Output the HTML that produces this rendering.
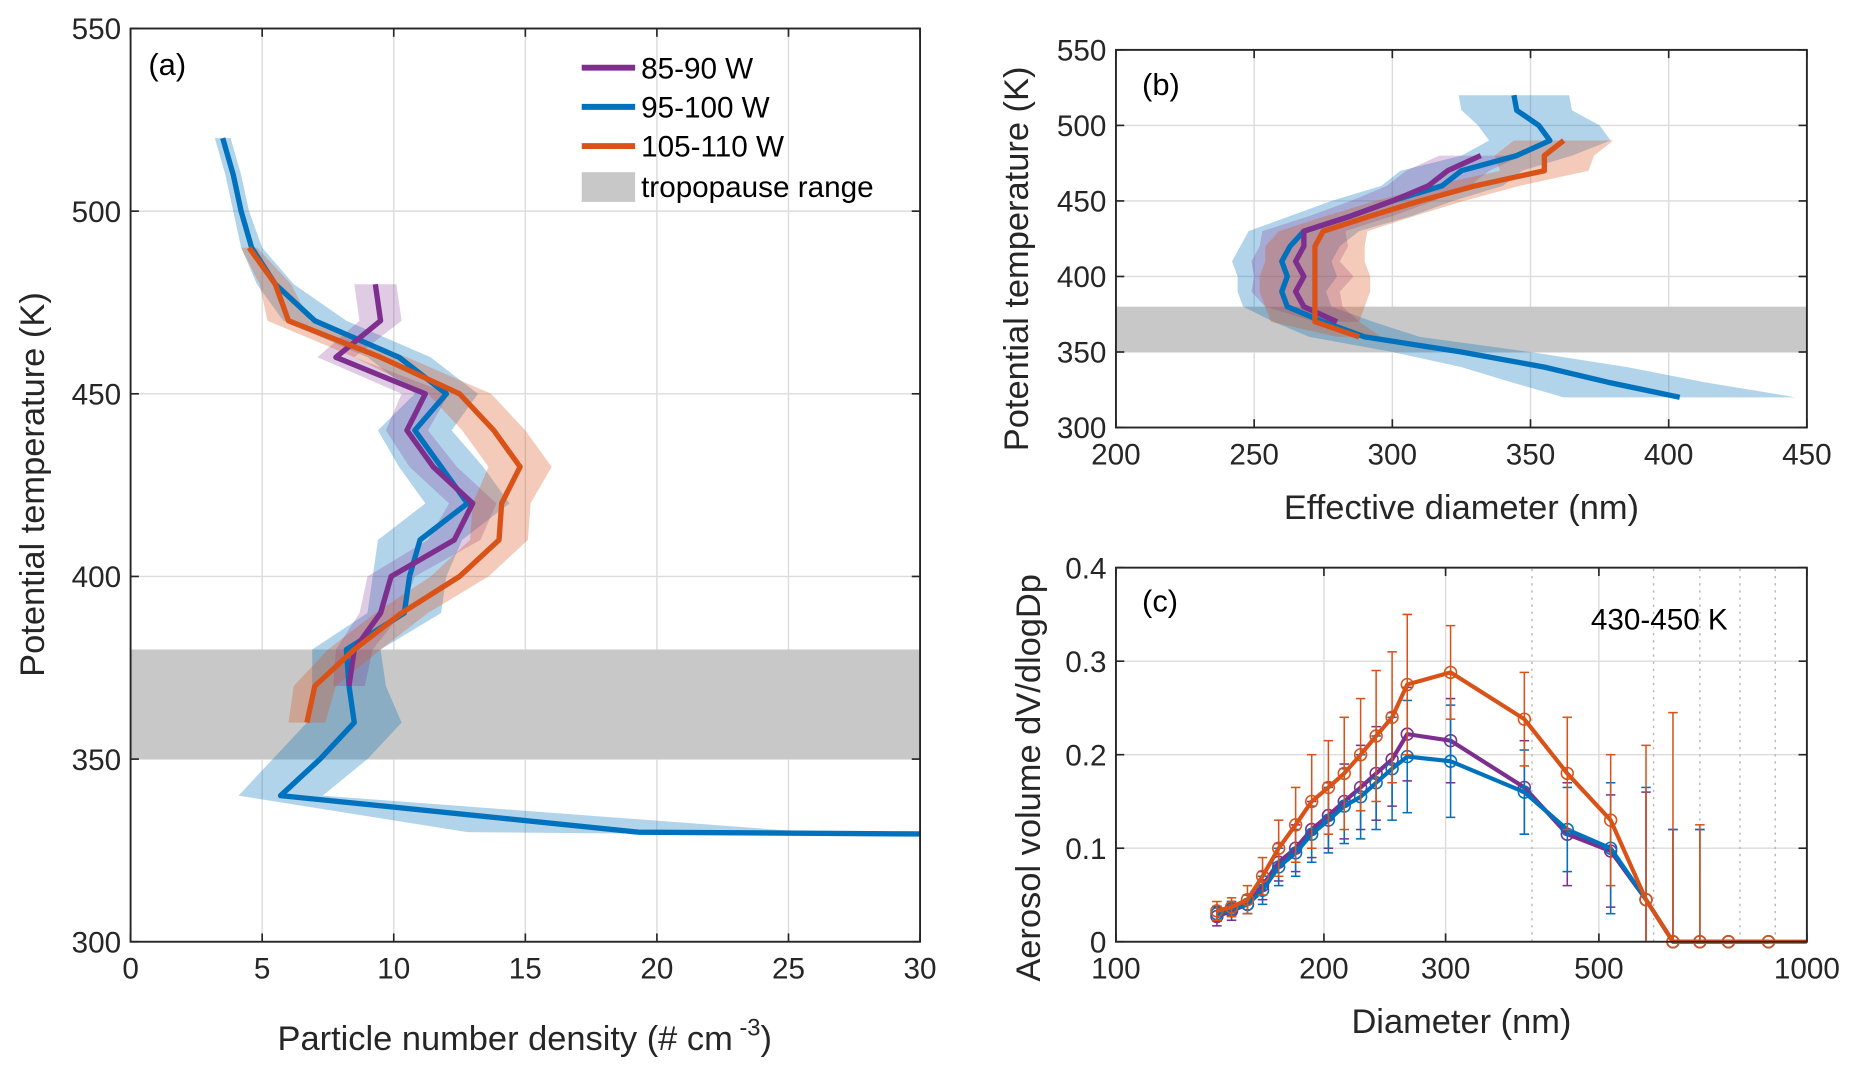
<!DOCTYPE html>
<html><head><meta charset="utf-8"><style>
html,body{margin:0;padding:0;background:#fff;}
svg{display:block;font-family:"Liberation Sans",sans-serif;}
</style></head><body>
<svg id="fig" width="1852" height="1070" viewBox="0 0 1560 901" preserveAspectRatio="none" xmlns="http://www.w3.org/2000/svg">
<defs>
<clipPath id="ca"><rect x="110" y="24" width="665" height="769"/></clipPath>
<clipPath id="cb"><rect x="940" y="42" width="582" height="318"/></clipPath>
<clipPath id="cc"><rect x="940" y="470" width="582" height="330"/></clipPath>
</defs>
<g id="pa"></g>
<g id="pb"></g>
<g id="pc"></g>
</svg>
<script>
// ---- Panel (a) data: potential temperature vs number density
const thetaBlueA = [520,510,500,490,480,470,460,450,440,430,420,410,400,390,380,370,360,350,340,330,329.5];
const densBlue = [3.5,3.9,4.2,4.6,5.5,7,10.2,12,10.8,11.8,12.8,11,10.6,10.4,8.2,8.3,8.5,7.2,5.7,19.3,30];
const densBlueHW = [0.3,0.3,0.3,0.4,0.7,1.2,1.2,1.2,1.4,1.6,1.6,1.6,1.4,1.4,1.3,1.4,1.8,1.8,1.6,6.5,9];
const thetaPurpleA = [480,470,460,450,440,430,420,410,400,390,380,370];
const densPurple = [9.3,9.5,7.8,11.2,10.5,11.5,13,12.3,9.9,9.5,8.5,8.3];
const densPurpleHW = [0.8,0.8,0.7,0.9,0.8,0.9,0.9,1,0.9,0.8,0.7,0.6];
const thetaOrangeA = [490,480,470,460,450,440,430,420,410,400,390,380,370,360];
const densOrange = [4.5,5.5,6,9.5,12.5,13.8,14.8,14.1,14,12.5,10.3,8.5,7,6.7];
const densOrangeHW = [0.3,0.6,0.8,1,1.2,1.2,1.2,1.1,1.1,1.1,1,1,0.8,0.7];
const xTicksA = [0,5,10,15,20,25,30];
const yTicksA = [300,350,400,450,500,550];
// ---- Panel (b) data: potential temperature vs effective diameter
const thetaBlueB = [520,510,500,490,480,470,460,450,440,430,420,410,400,390,380,370,360,350,340,330,320];
const diamBlue = [344,345,353,357,345,325,318,300,285,268,263,260,262,260,262,275,290,325,355,378,404];
const diamBlueHW = [20,20,22,22,20,22,22,22,22,20,18,18,18,16,16,18,20,25,30,35,42];
const thetaPurpleB = [480,470,460,450,440,430,420,410,400,390,380,370];
const diamPurple = [332,320,313,300,285,268,268,265,268,265,268,280];
const diamPurpleHW = [15,15,15,15,15,15,16,16,18,16,14,8];
const thetaOrangeB = [490,480,470,460,450,440,430,420,410,400,390,380,370,360];
const diamOrange = [362,355,355,330,310,292,275,272,272,272,272,272,272,288];
const diamOrangeHW = [18,18,16,16,16,16,16,18,18,20,20,18,16,8];
const xTicksB = [200,250,300,350,400,450];
const yTicksB = [300,350,400,450,500,550];
// ---- Panel (c) data: size distribution
const binsC = [140,147,155,163,172,182,192,203,214,226,238,251,264,305,390,450,520,585,640,700,770,880];
const volOrange = [0.033,0.037,0.045,0.07,0.1,0.125,0.15,0.165,0.18,0.2,0.22,0.24,0.275,0.288,0.238,0.18,0.13,0.045,0,0,0,0];
const errOrange = [0.01,0.01,0.015,0.02,0.03,0.04,0.05,0.05,0.06,0.06,0.07,0.07,0.075,0.05,0.05,0.06,0.07,0.165,0.245,0.125,0,0];
const volPurple = [0.027,0.033,0.04,0.06,0.085,0.1,0.12,0.135,0.15,0.165,0.18,0.195,0.222,0.215,0.165,0.115,0.097,0.045,0,0,0,0];
const errPurple = [0.01,0.01,0.01,0.015,0.02,0.025,0.03,0.035,0.04,0.045,0.05,0.05,0.05,0.045,0.05,0.055,0.06,0.115,0.12,0.12,0,0];
const volBlue = [0.03,0.035,0.04,0.055,0.08,0.095,0.115,0.13,0.145,0.155,0.17,0.185,0.198,0.193,0.16,0.12,0.1,0.045,0,0,0,0];
const errBlue = [0.008,0.008,0.01,0.015,0.02,0.025,0.03,0.035,0.04,0.045,0.05,0.055,0.06,0.06,0.045,0.045,0.07,0.12,0.12,0.12,0,0];
const xTicksC = [100,200,300,500,1000];
const xMinorC = [400,600,700,800,900];
const yTicksC = [0,0.1,0.2,0.3,0.4];

const NS="http://www.w3.org/2000/svg";
function el(tag,attrs,parent,text){const e=document.createElementNS(NS,tag);for(const k in attrs)e.setAttribute(k,attrs[k]);if(text!==undefined)e.textContent=text;parent.appendChild(e);return e;}
const C={blue:"#0072bd",purple:"#7e2f8e",orange:"#d95319"};
const F={blue:"rgba(0,114,189,0.3)",purple:"rgba(126,47,142,0.25)",orange:"rgba(217,83,25,0.3)"};

function axesFrame(g,x0,x1,y0,y1,xs,ys,xt,yt){
  xt.forEach(v=>{const x=xs(v);const l=el('line',{x1:x,x2:x,y1:y0,y2:y1,stroke:'#dcdcdc','stroke-width':1.2},g);});
  yt.forEach(v=>{const y=ys(v);const l=el('line',{x1:x0,x2:x1,y1:y,y2:y,stroke:'#dcdcdc','stroke-width':1.2},g);});
}
function axesBox(g,x0,x1,y0,y1,xs,ys,xt,yt,xfmt,yfmt){
  const b=el('rect',{x:x0,y:y1,width:x1-x0,height:y0-y1,fill:'none',stroke:'#262626','stroke-width':1.6},g);
  
  xt.forEach(v=>{const x=xs(v);
    el('line',{x1:x,x2:x,y1:y0,y2:y0-7,stroke:'#262626','stroke-width':1.4},g);
    el('line',{x1:x,x2:x,y1:y1,y2:y1+7,stroke:'#262626','stroke-width':1.4},g);
    const t=el('text',{x:x,y:y0+31,'text-anchor':'middle','font-size':25,fill:'#262626'},g,xfmt(v));
    });
  yt.forEach(v=>{const y=ys(v);
    el('line',{x1:x0,x2:x0+7,y1:y,y2:y,stroke:'#262626','stroke-width':1.4},g);
    el('line',{x1:x1,x2:x1-7,y1:y,y2:y,stroke:'#262626','stroke-width':1.4},g);
    const t=el('text',{x:x0-8,y:y+9,'text-anchor':'end','font-size':25,fill:'#262626'},g,yfmt(v));
    });
}
function band(g,ths,vals,hw,xs,ys,color,name,clip){
  let pts=[];for(let i=0;i<ths.length;i++)pts.push([xs(vals[i]-hw[i]),ys(ths[i])]);
  for(let i=ths.length-1;i>=0;i--)pts.push([xs(vals[i]+hw[i]),ys(ths[i])]);
  const p=el('polygon',{points:pts.map(p=>p.join(',')).join(' '),fill:color,'clip-path':clip},g);
  
}
function line(g,ths,vals,xs,ys,color,name,clip){
  const pts=ths.map((t,i)=>xs(vals[i])+','+ys(t)).join(' ');
  const p=el('polyline',{points:pts,fill:'none',stroke:color,'stroke-width':4.5,'stroke-linejoin':'round','clip-path':clip},g);
  
}

// ===== Panel A =====
(function(){
  const g=document.getElementById('pa');
  const x0=110,x1=775,y0=793,y1=24;
  const xs=v=>x0+(v-0)/30*(x1-x0), ys=v=>y0-(v-300)/250*(y0-y1);
  axesFrame(g,x0,x1,y0,y1,xs,ys,xTicksA,yTicksA);
  const tp=el('rect',{x:x0,y:ys(380),width:x1-x0,height:ys(350)-ys(380),fill:'#c8c8c8'},g);
  
  band(g,thetaBlueA,densBlue,densBlueHW,xs,ys,F.blue,'band-95-100w','url(#ca)');
  band(g,thetaPurpleA,densPurple,densPurpleHW,xs,ys,F.purple,'band-85-90w','url(#ca)');
  band(g,thetaOrangeA,densOrange,densOrangeHW,xs,ys,F.orange,'band-105-110w','url(#ca)');
  line(g,thetaBlueA,densBlue,xs,ys,C.blue,'line-95-100w','url(#ca)');
  line(g,thetaPurpleA,densPurple,xs,ys,C.purple,'line-85-90w','url(#ca)');
  line(g,thetaOrangeA,densOrange,xs,ys,C.orange,'line-105-110w','url(#ca)');
  axesBox(g,x0,x1,y0,y1,xs,ys,xTicksA,yTicksA,v=>String(v),v=>String(v));
  const pl=el('text',{x:125,y:63,'font-size':26,fill:'#000'},g,'(a)');
  const leg=el('g',{},g);
  const items=[['85-90 W',C.purple,57],['95-100 W',C.blue,90],['105-110 W',C.orange,123]];
  items.forEach(it=>{const e=el('g',{},leg);
    el('line',{x1:490,x2:535,y1:it[2],y2:it[2],stroke:it[1],'stroke-width':5},e);
    el('text',{x:540,y:it[2]+9,'font-size':25,fill:'#000'},e,it[0]);});
  const e4=el('g',{},leg);
  el('rect',{x:490,y:145,width:45,height:25,fill:'#c8c8c8'},e4);
  el('text',{x:540,y:166,'font-size':25,fill:'#000'},e4,'tropopause range');
  const yl=el('text',{x:0,y:0,'font-size':29,fill:'#262626','text-anchor':'middle',transform:'translate(37,408) rotate(-90)'},g,'Potential temperature (K)');
  
  const xl=el('text',{x:442,y:884,'font-size':29,fill:'#262626','text-anchor':'middle'},g);
  
  el('tspan',{},xl,'Particle number density (# cm');
  el('tspan',{dy:-12,'font-size':20},xl,' -3');
  el('tspan',{dy:12},xl,')');
})();

// ===== Panel B =====
(function(){
  const g=document.getElementById('pb');
  const x0=940,x1=1522,y0=360,y1=42;
  const xs=v=>x0+(v-200)/250*(x1-x0), ys=v=>y0-(v-300)/250*(y0-y1);
  axesFrame(g,x0,x1,y0,y1,xs,ys,xTicksB,yTicksB);
  const tp=el('rect',{x:x0,y:ys(380),width:x1-x0,height:ys(350)-ys(380),fill:'#c8c8c8'},g);
  
  band(g,thetaBlueB,diamBlue,diamBlueHW,xs,ys,F.blue,'band-95-100w','url(#cb)');
  band(g,thetaPurpleB,diamPurple,diamPurpleHW,xs,ys,F.purple,'band-85-90w','url(#cb)');
  band(g,thetaOrangeB,diamOrange,diamOrangeHW,xs,ys,F.orange,'band-105-110w','url(#cb)');
  line(g,thetaBlueB,diamBlue,xs,ys,C.blue,'line-95-100w','url(#cb)');
  line(g,thetaPurpleB,diamPurple,xs,ys,C.purple,'line-85-90w','url(#cb)');
  line(g,thetaOrangeB,diamOrange,xs,ys,C.orange,'line-105-110w','url(#cb)');
  axesBox(g,x0,x1,y0,y1,xs,ys,xTicksB,yTicksB,v=>String(v),v=>String(v));
  const pl=el('text',{x:962,y:80,'font-size':26,fill:'#000'},g,'(b)');
  const yl=el('text',{x:0,y:0,'font-size':29,fill:'#262626','text-anchor':'middle',transform:'translate(866,218) rotate(-90)'},g,'Potential temperature (K)');
  
  const xl=el('text',{x:1231,y:437,'font-size':29,fill:'#262626','text-anchor':'middle'},g,'Effective diameter (nm)');
  
})();

// ===== Panel C =====
(function(){
  const g=document.getElementById('pc');
  const x0=940,x1=1522,y0=793,y1=478;
  const xs=v=>x0+(Math.log10(v)-2)*(x1-x0), ys=v=>y0-v/0.4*(y0-y1);
  axesFrame(g,x0,x1,y0,y1,xs,ys,xTicksC,yTicksC);
  xMinorC.forEach(v=>{const x=xs(v);const l=el('line',{x1:x,x2:x,y1:y0,y2:y1,stroke:'#b8b8b8','stroke-width':1.2,'stroke-dasharray':'2,4'},g);
    });
  const series=[['purple',volPurple,errPurple],['blue',volBlue,errBlue],['orange',volOrange,errOrange]];
  series.forEach(s=>{
    const c=C[s[0]];const sg=el('g',{'clip-path':'url(#cc)'},g);
    
    binsC.forEach((d,i)=>{const x=xs(d);const hi=s[1][i]+s[2][i],lo=Math.max(0,s[1][i]-s[2][i]);
      if(s[2][i]>0){const eb=el('g',{},sg);
        el('line',{x1:x,x2:x,y1:ys(lo),y2:ys(hi),stroke:c,'stroke-width':1.3},eb);
        el('line',{x1:x-4,x2:x+4,y1:ys(hi),y2:ys(hi),stroke:c,'stroke-width':1.3},eb);
        el('line',{x1:x-4,x2:x+4,y1:ys(lo),y2:ys(lo),stroke:c,'stroke-width':1.3},eb);}
    });
    let pts=binsC.map((d,i)=>xs(d)+','+ys(s[1][i]));
    if(s[0]==='orange')pts.push(x1+','+ys(0));
    const pl=el('polyline',{points:pts.join(' '),fill:'none',stroke:c,'stroke-width':3.5,'stroke-linejoin':'round'},sg);
    
    binsC.forEach((d,i)=>{const m=el('circle',{cx:xs(d),cy:ys(s[1][i]),r:5,fill:'none',stroke:c,'stroke-width':1.3},sg);
      });
  });
  axesBox(g,x0,x1,y0,y1,xs,ys,xTicksC,yTicksC,v=>String(v),v=>String(v));
  const pl=el('text',{x:962,y:515,'font-size':26,fill:'#000'},g,'(c)');
  const ann=el('text',{x:1340,y:530,'font-size':25,fill:'#000'},g,'430-450 K');
  const yl=el('text',{x:0,y:0,'font-size':29,fill:'#262626','text-anchor':'middle',transform:'translate(876,655) rotate(-90)'},g,'Aerosol volume dV/dlogDp');
  
  const xl=el('text',{x:1231,y:870,'font-size':29,fill:'#262626','text-anchor':'middle'},g,'Diameter (nm)');
  
})();
</script>
</body></html>
